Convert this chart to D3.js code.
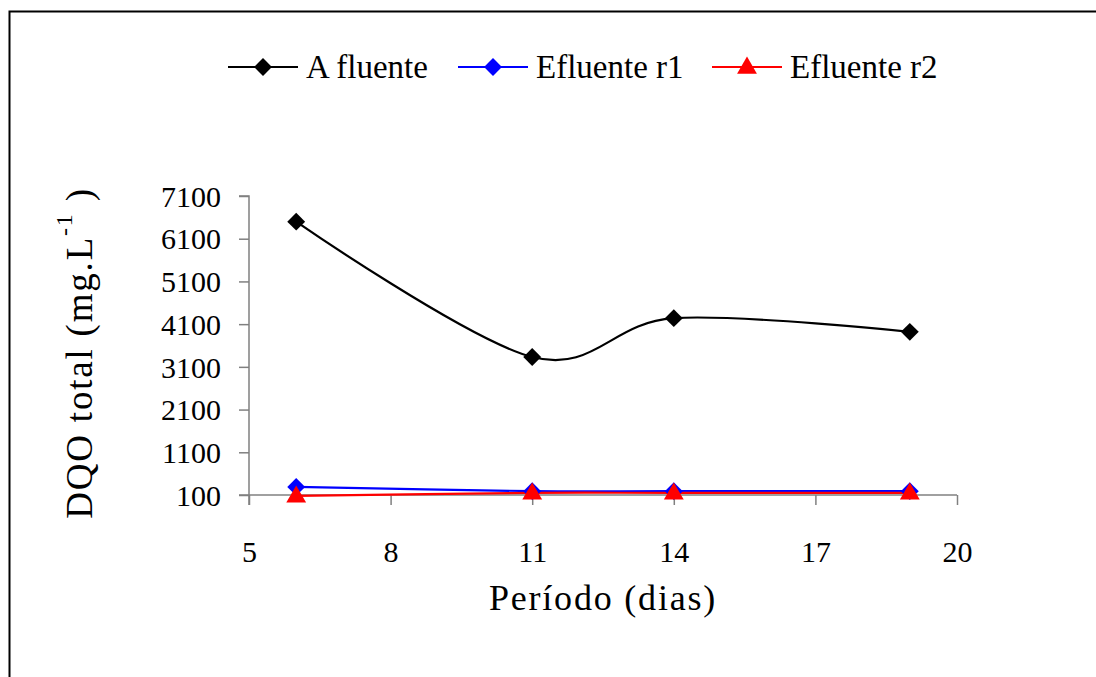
<!DOCTYPE html>
<html>
<head>
<meta charset="utf-8">
<script src="https://cdn.jsdelivr.net/npm/d3@7/dist/d3.min.js"></script>
<style>
  html, body { margin: 0; padding: 0; background: #fff; }
  svg { display: block; font-family: "Liberation Serif", "Times New Roman", serif; }
</style>
</head>
<body>
<svg id="chart" width="1096" height="677"></svg>
<script>
// Período (dias) and DQO total (mg/L) per series
const dias = [6, 11, 14, 19];
const afluente = [6500, 3330, 4240, 3920];
const efluenteR1 = [290, 190, 190, 190];
const efluenteR2 = [80, 150, 150, 150];

const xTicks = [5, 8, 11, 14, 17, 20];
const yTicks = [100, 1100, 2100, 3100, 4100, 5100, 6100, 7100];

const series = [
  { name: "A fluente", values: afluente, color: "#000000", marker: "diamond" },
  { name: "Efluente r1", values: efluenteR1, color: "#0000ff", marker: "diamond" },
  { name: "Efluente r2", values: efluenteR2, color: "#ff0000", marker: "triangle" }
];

const svg = d3.select("#chart");

// outer chart frame (runs past the right and bottom edges)
svg.append("rect")
  .attr("x", 9.5).attr("y", 11.5)
  .attr("width", 1200).attr("height", 800)
  .attr("fill", "none").attr("stroke", "#000").attr("stroke-width", 2);

const x = d3.scaleLinear().domain([5, 20]).range([249, 957]);
const y = d3.scaleLinear().domain([100, 7100]).range([495, 196]);

// y axis
const yAxis = svg.append("g")
  .attr("transform", `translate(${x(5)},0)`)
  .call(d3.axisLeft(y).tickValues(yTicks).tickSize(10).tickPadding(18).tickFormat(d3.format("d")));
// x axis sits at y = 100
const xAxis = svg.append("g")
  .attr("transform", `translate(0,${y(100)})`)
  .call(d3.axisBottom(x).tickValues(xTicks).tickSize(10).tickPadding(36).tickFormat(d3.format("d")));

[xAxis, yAxis].forEach(g => {
  g.select(".domain").attr("stroke", "#808080").attr("stroke-width", 1.5);
  g.selectAll(".tick line").attr("stroke", "#808080").attr("stroke-width", 1.5);
  g.selectAll(".tick text")
    .attr("fill", "#000")
    .style("font-family", "'Liberation Serif', serif")
    .style("font-size", "30px");
});
// axis lines: y axis runs down past the x axis, x axis starts left of the y axis
yAxis.select(".domain").attr("d", `M-10,${y(7100)}H0V${y(100) + 10}`);
xAxis.select(".domain").attr("d", `M${x(5) - 10},0H${x(20)}`);
yAxis.selectAll(".tick text").attr("dy", "0.34em");

// axis titles
svg.append("text")
  .attr("x", x(12.5)).attr("y", 610)
  .attr("text-anchor", "middle")
  .style("font-size", "36px")
  .style("letter-spacing", "1.8px")
  .text("Período (dias)");

const yt = svg.append("text")
  .attr("transform", `translate(92,353) rotate(-90)`)
  .attr("text-anchor", "middle")
  .style("font-size", "37px")
  .style("letter-spacing", "1.8px");
yt.append("tspan").text("DQO total (mg.L");
yt.append("tspan").attr("dy", "-20").style("font-size", "24px").text("-1");
yt.append("tspan").attr("dy", "20").text(" )");

// smoothed lines through the points
const line = d3.line()
  .x((d, i) => x(dias[i]))
  .y(d => y(d))
  .curve(d3.curveCardinal.tension(0));

const diamond = d3.symbol().type(d3.symbolSquare).size(160);
const triangle = d3.symbol().type(d3.symbolTriangle).size(170);

function drawMarker(g, type, color, cx, cy) {
  if (type === "diamond") {
    g.append("path").attr("d", diamond())
      .attr("transform", `translate(${cx},${cy}) rotate(45)`)
      .attr("fill", color);
  } else {
    g.append("path").attr("d", triangle())
      .attr("transform", `translate(${cx},${cy + 1})`)
      .attr("fill", color);
  }
}

const plot = svg.append("g");
series.forEach(s => {
  plot.append("path")
    .datum(s.values)
    .attr("d", line)
    .attr("fill", "none")
    .attr("stroke", s.color)
    .attr("stroke-width", 2.2);
});
series.forEach(s => {
  s.values.forEach((v, i) => drawMarker(plot, s.marker, s.color, x(dias[i]), y(v)));
});

// legend
const legendX = [228, 458, 712];
const legend = svg.append("g");
series.forEach((s, i) => {
  const lx = legendX[i];
  legend.append("line")
    .attr("x1", lx).attr("x2", lx + 70)
    .attr("y1", 67).attr("y2", 67)
    .attr("stroke", s.color).attr("stroke-width", 2.2);
  drawMarker(legend, s.marker, s.color, lx + 35, 67);
  legend.append("text")
    .attr("x", lx + 78).attr("y", 78)
    .style("font-size", "33px")
    .text(s.name);
});
</script>
</body>
</html>
